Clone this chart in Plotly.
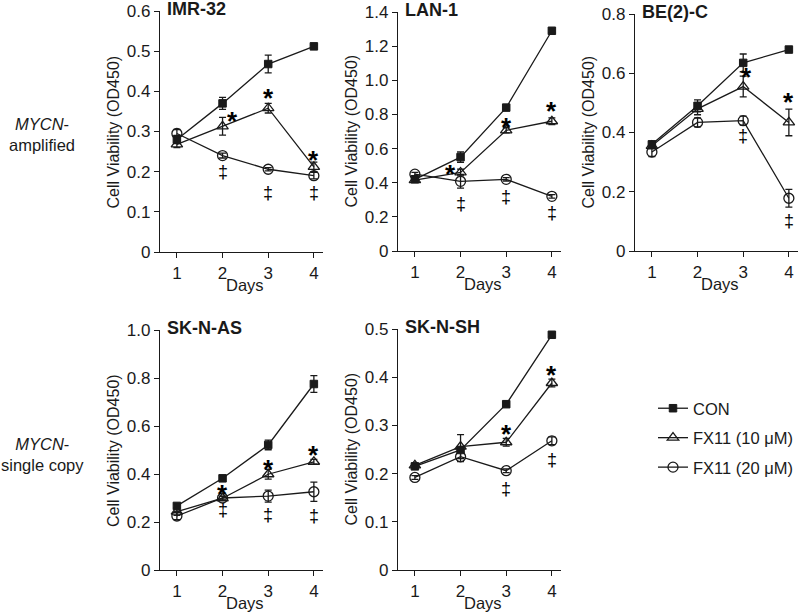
import plotly.graph_objects as go

# days of measurement
days = [1, 2, 3, 4]

# IMR-32
imr32_con = [0.28, 0.37, 0.468, 0.512]
imr32_con_err = [0.01, 0.015, 0.022, 0.004]
imr32_fx10 = [0.268, 0.313, 0.358, 0.212]
imr32_fx10_err = [0.008, 0.022, 0.012, 0.012]
imr32_fx20 = [0.295, 0.24, 0.206, 0.19]
imr32_fx20_err = [0.01, 0.006, 0.004, 0.008]
imr32_star = [0.344, 0.40, 0.247]
imr32_dagger = [0.199, 0.146, 0.148]

# LAN-1
lan1_con = [0.42, 0.55, 0.84, 1.29]
lan1_con_err = [0.01, 0.03, 0.01, 0.01]
lan1_fx10 = [0.415, 0.46, 0.707, 0.76]
lan1_fx10_err = [0.01, 0.02, 0.015, 0.02]
lan1_fx20 = [0.45, 0.408, 0.42, 0.32]
lan1_fx20_err = [0.01, 0.04, 0.01, 0.01]
lan1_star = [0.49, 0.77, 0.864]
lan1_dagger = [0.278, 0.316, 0.223]

# BE(2)-C
be2c_con = [0.36, 0.49, 0.635, 0.68]
be2c_con_err = [0.01, 0.02, 0.03, 0.005]
be2c_fx10 = [0.355, 0.48, 0.555, 0.434]
be2c_fx10_err = [0.01, 0.02, 0.035, 0.045]
be2c_fx20 = [0.334, 0.434, 0.44, 0.178]
be2c_fx20_err = [0.015, 0.015, 0.015, 0.03]
be2c_star = [None, 0.611, 0.528]
be2c_dagger = [None, 0.387, 0.102]

# SK-N-AS
sknas_con = [0.267, 0.382, 0.521, 0.775]
sknas_con_err = [0.008, 0.008, 0.02, 0.035]
sknas_fx10 = [0.243, 0.299, 0.399, 0.451]
sknas_fx10_err = [0.015, 0.008, 0.02, 0.01]
sknas_fx20 = [0.225, 0.30, 0.308, 0.326]
sknas_fx20_err = [0.015, 0.008, 0.025, 0.04]
sknas_star = [0.347, 0.451, 0.507]
sknas_dagger = [0.25, 0.229, 0.225]

# SK-N-SH
sknsh_con = [0.215, 0.249, 0.344, 0.488]
sknsh_con_err = [0.004, 0.005, 0.004, 0.004]
sknsh_fx10 = [0.217, 0.256, 0.265, 0.388]
sknsh_fx10_err = [0.004, 0.025, 0.008, 0.008]
sknsh_fx20 = [0.192, 0.235, 0.206, 0.268]
sknsh_fx20_err = [0.004, 0.01, 0.004, 0.008]
sknsh_star = [None, 0.296, 0.419]
sknsh_dagger = [None, 0.168, 0.228]

series_names = ["CON", "FX11 (10 μM)", "FX11 (20 μM)"]
y_ticks = {
    "IMR-32": [0, 0.1, 0.2, 0.3, 0.4, 0.5, 0.6],
    "LAN-1": [0, 0.2, 0.4, 0.6, 0.8, 1.0, 1.2, 1.4],
    "BE(2)-C": [0, 0.2, 0.4, 0.6, 0.8],
    "SK-N-AS": [0, 0.2, 0.4, 0.6, 0.8, 1.0],
    "SK-N-SH": [0, 0.1, 0.2, 0.3, 0.4, 0.5],
}

W, H = 800, 612
FONT = "Liberation Sans, Arial, sans-serif"
INK = "#1a1a1a"

# panel boxes in pixels: (left, right, top, bottom)
panels = [
    ("IMR-32", imr32_con, imr32_con_err, imr32_fx10, imr32_fx10_err, imr32_fx20, imr32_fx20_err,
     imr32_star, imr32_dagger, (160, 323, 11, 252)),
    ("LAN-1", lan1_con, lan1_con_err, lan1_fx10, lan1_fx10_err, lan1_fx20, lan1_fx20_err,
     lan1_star, lan1_dagger, (398, 561, 12, 251)),
    ("BE(2)-C", be2c_con, be2c_con_err, be2c_fx10, be2c_fx10_err, be2c_fx20, be2c_fx20_err,
     be2c_star, be2c_dagger, (635, 798, 14, 251)),
    ("SK-N-AS", sknas_con, sknas_con_err, sknas_fx10, sknas_fx10_err, sknas_fx20, sknas_fx20_err,
     sknas_star, sknas_dagger, (160, 323, 330, 570)),
    ("SK-N-SH", sknsh_con, sknsh_con_err, sknsh_fx10, sknsh_fx10_err, sknsh_fx20, sknsh_fx20_err,
     sknsh_star, sknsh_dagger, (398, 561, 329, 570)),
]

# star x-offsets (in days) where the marks sit beside the points
star_dx = {"IMR-32": [0.22, 0, 0], "LAN-1": [-0.22, 0, 0], "BE(2)-C": [0, 0.08, 0],
           "SK-N-AS": [0, 0, 0], "SK-N-SH": [0, 0, 0]}

styles = [
    dict(symbol="square", size=7.5, color=INK, line=dict(color=INK, width=1)),
    dict(symbol="triangle-up-open", size=10, color=INK, line=dict(color=INK, width=1.3)),
    dict(symbol="circle-open", size=10, color=INK, line=dict(color=INK, width=1.3)),
]

fig = go.Figure()
layout = dict(width=W, height=H, margin=dict(l=0, r=0, t=0, b=0, autoexpand=False),
              plot_bgcolor="white", paper_bgcolor="white",
              font=dict(family=FONT, color=INK, size=16))
annotations = []

for i, (name, con, con_e, f10, f10_e, f20, f20_e, stars, daggers, box) in enumerate(panels):
    n = "" if i == 0 else str(i + 1)
    xa, ya = "x" + n, "y" + n
    left, right, top, bottom = box
    ticks = y_ticks[name]
    layout["xaxis" + n] = dict(
        domain=[left / W, right / W], range=[0.63, 4.2], anchor=ya, automargin=False,
        tickvals=days, ticks="outside", ticklen=5, tickwidth=1.3, tickcolor=INK,
        showline=True, linecolor=INK, linewidth=1.3, showgrid=False, zeroline=False,
        tickfont=dict(size=17, color=INK),
    )
    layout["yaxis" + n] = dict(
        domain=[1 - bottom / H, 1 - top / H], range=[0, ticks[-1]], anchor=xa, automargin=False,
        tickvals=ticks, ticktext=["0"] + ["%.1f" % t for t in ticks[1:]],
        ticks="outside", ticklen=5, tickwidth=1.3, tickcolor=INK,
        showline=True, linecolor=INK, linewidth=1.3, showgrid=False, zeroline=False,
        tickfont=dict(size=17, color=INK),
    )
    # draw FX20 first, CON last, so the filled squares sit on top
    for k, (vals, errs) in reversed(list(enumerate([(con, con_e), (f10, f10_e), (f20, f20_e)]))):
        fig.add_trace(go.Scatter(
            x=days, y=vals, xaxis=xa, yaxis=ya, mode="lines+markers",
            name=series_names[k], legendgroup=series_names[k], legendrank=k + 1,
            showlegend=(i == 0), cliponaxis=False,
            line=dict(color=INK, width=1.3), marker=styles[k],
            error_y=dict(type="data", array=errs, color=INK, thickness=1.3, width=3.5),
        ))
    for d, s, dx in zip(days[1:], stars, star_dx[name]):
        if s is not None:
            annotations.append(dict(x=d + dx, y=s, xref=xa, yref=ya, text="<b>*</b>", showarrow=False,
                                    xanchor="center", yanchor="middle",
                                    font=dict(size=26, color="black"), yshift=-7))
    for d, g in zip(days[1:], daggers):
        if g is not None:
            annotations.append(dict(x=d, y=g, xref=xa, yref=ya, text="‡", showarrow=False,
                                    xanchor="center", yanchor="middle",
                                    font=dict(size=18, color="black")))
    # panel title
    annotations.append(dict(x=(left + 5) / W, y=1 - (top - 2) / H, xref="paper", yref="paper",
                            xanchor="left", yanchor="middle", text="<b>%s</b>" % name,
                            showarrow=False, font=dict(size=18, color=INK)))
    # y title
    annotations.append(dict(x=(left - 47) / W, y=1 - (top + bottom) / 2 / H, xref="paper", yref="paper",
                            xanchor="center", yanchor="middle",
                            textangle=-90, text="Cell Viability (OD450)", showarrow=False,
                            font=dict(size=16, color=INK)))
    # x title
    annotations.append(dict(x=2.5, y=1 - (bottom + 33) / H, xref=xa, yref="paper",
                            xanchor="center", yanchor="middle",
                            text="Days", showarrow=False, font=dict(size=16.5, color=INK)))

# row labels
annotations.append(dict(x=42 / W, y=1 - 134 / H, xref="paper", yref="paper", showarrow=False,
                        xanchor="center", yanchor="middle",
                        text="<i>MYCN</i>-<br>amplified", align="center",
                        font=dict(size=16.5, color=INK)))
annotations.append(dict(x=42 / W, y=1 - 454 / H, xref="paper", yref="paper", showarrow=False,
                        xanchor="center", yanchor="middle",
                        text="<i>MYCN</i>-<br>single copy", align="center",
                        font=dict(size=16.5, color=INK)))

layout["annotations"] = annotations
layout["showlegend"] = True
layout["legend"] = dict(x=653 / W, y=1 - 391 / H, xanchor="left", yanchor="top",
                        font=dict(size=16.5, color=INK), bgcolor="rgba(0,0,0,0)",
                        tracegroupgap=5, itemwidth=30)
fig.update_layout(**layout)

fig.write_html("out.html", config={"displayModeBar": False},
               post_script="document.body.style.margin='0';")
